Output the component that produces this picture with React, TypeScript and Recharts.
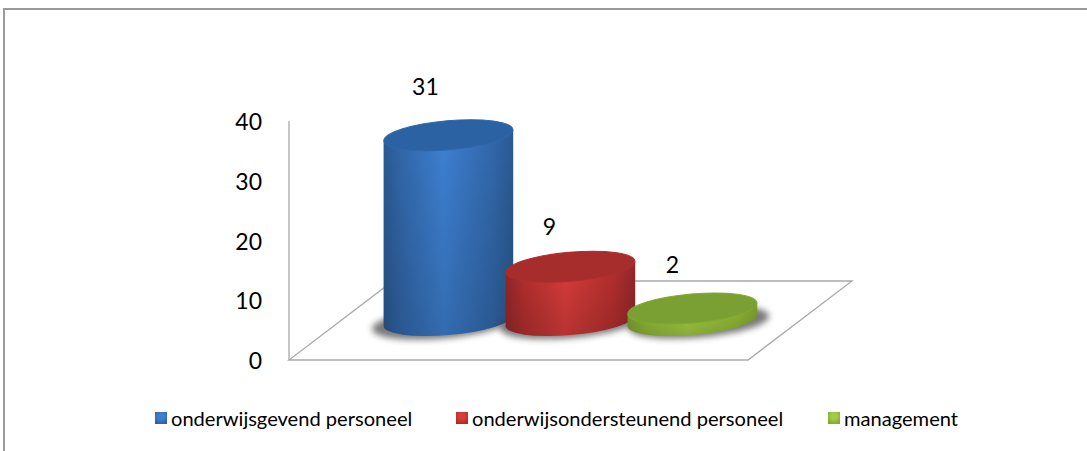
import React from 'react';
import { BarChart, Bar, XAxis, YAxis, Legend, ReferenceArea, LabelList } from 'recharts';

const categories = ['onderwijsgevend personeel', 'onderwijsondersteunend personeel', 'management'];
const values = [31, 9, 2];
const yTicks = [0, 10, 20, 30, 40];

const chartData = categories.map((name, i) => ({ name, value: values[i] }));

const FONT = 'Lato, "Open Sans", sans-serif';
const AXIS_GREY = '#a9a9a9';

// the 3D look: the floor runs back by this much, bars stand in the middle of it
const DEPTH_X = 104;
const DEPTH_Y = 79;
const X_PAD = 46.5;
const RX = 64.8;
const RY = 14.5;
const TILT = -5;
const TILT_DY = 5.4;

const palette = [
  { id: 'blue', edge: '#2a5a92', soft: '#3268ab', mid: '#3d80d2', top: '#2b62a3', topEdge: '#2d68ad', square: '#3566a8' },
  { id: 'red', edge: '#94272a', soft: '#b32f2e', mid: '#d83d3a', top: '#a62d2b', topEdge: '#ad2f2d', square: '#b52f2d' },
  { id: 'green', edge: '#7a9e30', soft: '#8fb737', mid: '#a3cc42', top: '#7a9f32', topEdge: '#82a834', square: '#8aae37' },
];

// data labels sit a bit left of the bars in the original
const labelNudge = [
  { dx: -23, dy: -49 },
  { dx: -21, dy: -41 },
  { dx: -20, dy: -45 },
];

const Floor = (props: any) => {
  const { x, y, width, height } = props;
  const bottom = y + height;
  const pts = [
    [x - X_PAD, bottom],
    [x + width + X_PAD, bottom],
    [x + width + X_PAD + DEPTH_X, bottom - DEPTH_Y],
    [x - X_PAD + DEPTH_X, bottom - DEPTH_Y],
  ];
  return <polygon points={pts.map(p => p.join(',')).join(' ')} fill="#fff" stroke={AXIS_GREY} strokeWidth={1.3} />;
};

const Cylinder = (props: any) => {
  const { x, y, width, height, index } = props;
  const c = palette[index];
  const cx = x + width / 2 + DEPTH_X / 2;
  const top = y - DEPTH_Y / 2;
  const bottom = y + height - DEPTH_Y / 2;
  const left = cx - RX;
  const right = cx + RX;
  const side = `M${left},${top + TILT_DY} L${left},${bottom + TILT_DY} A${RX},${RY} ${TILT} 0 0 ${right},${bottom - TILT_DY} L${right},${top - TILT_DY} Z`;
  return (
    <g>
      <ellipse
        cx={cx + (index - 1) * 6}
        cy={bottom + 2}
        rx={RX + 6}
        ry={RY + 1}
        transform={`rotate(${TILT} ${cx} ${bottom})`}
        fill="#333"
        opacity={0.65}
        filter="url(#floorShadow)"
      />
      <path d={side} fill={`url(#side-${c.id})`} />
      <path d={side} fill="url(#sideShade)" />
      <ellipse
        cx={cx}
        cy={top}
        rx={RX}
        ry={RY}
        transform={`rotate(${TILT} ${cx} ${top})`}
        fill={c.top}
        stroke={c.topEdge}
        strokeWidth={1}
      />
    </g>
  );
};

const ValueLabel = (props: any) => {
  const { x, y, width, index, value } = props;
  const n = labelNudge[index];
  return (
    <text
      x={x + width / 2 + DEPTH_X / 2 + n.dx}
      y={y - DEPTH_Y / 2 + n.dy}
      textAnchor="middle"
      dominantBaseline="central"
      fontFamily={FONT}
      fontSize={23}
      fill="#000"
    >
      {value}
    </text>
  );
};

const legendLefts = [155, 456, 828];

const ChartLegend = () => (
  <div style={{ position: 'relative', width: 1087, height: 26, fontFamily: FONT, fontSize: 20.1, color: '#000' }}>
    {categories.map((name, i) => (
      <div key={name} style={{ position: 'absolute', left: legendLefts[i], top: 0, height: 26, display: 'flex', alignItems: 'center', whiteSpace: 'nowrap' }}>
        <span
          style={{
            width: 12,
            height: 12,
            marginRight: 4,
            display: 'inline-block',
            background: `radial-gradient(circle at 50% 35%, ${palette[i].mid} 30%, ${palette[i].square} 70%, ${palette[i].edge})`,
          }}
        />
        {name}
      </div>
    ))}
  </div>
);

export default function App() {
  return (
    <div style={{ position: 'absolute', left: 0, top: 0, width: 1087, height: 451, overflow: 'hidden', background: '#fff' }}>
      <div style={{ position: 'absolute', left: 3, top: 8, right: -4, bottom: -4, borderLeft: '2px solid #9a9a9a', borderTop: '2px solid #9a9a9a' }} />
      <BarChart
        width={1087}
        height={451}
        data={chartData}
        margin={{ top: 121, right: 339, bottom: 91, left: 0 }}
        style={{ position: 'absolute', left: 0, top: 0 }}
      >
        <defs>
          {palette.map(c => (
            <linearGradient key={c.id} id={`side-${c.id}`} x1="0" y1="0" x2="1" y2="0">
              <stop offset="0%" stopColor={c.edge} />
              <stop offset="14%" stopColor={c.soft} />
              <stop offset="46%" stopColor={c.mid} />
              <stop offset="84%" stopColor={c.soft} />
              <stop offset="100%" stopColor={c.edge} />
            </linearGradient>
          ))}
          <linearGradient id="sideShade" x1="0" y1="0" x2="0" y2="1">
            <stop offset="0%" stopColor="#000" stopOpacity={0} />
            <stop offset="100%" stopColor="#000" stopOpacity={0.16} />
          </linearGradient>
          <filter id="floorShadow" x="-20%" y="-50%" width="140%" height="200%">
            <feGaussianBlur stdDeviation="3" />
          </filter>
        </defs>
        <ReferenceArea y1={0} y2={40} shape={Floor} ifOverflow="visible" />
        <XAxis dataKey="name" tick={false} tickLine={false} axisLine={false} height={0} padding={{ left: X_PAD, right: X_PAD }} />
        <YAxis
          width={289}
          domain={[0, 40]}
          ticks={yTicks}
          interval={0}
          tickLine={false}
          tickMargin={21}
          tick={{ fontFamily: FONT, fontSize: 23, fill: '#000', dy: 1 }}
          axisLine={{ stroke: AXIS_GREY, strokeWidth: 1.3 }}
        />
        <Bar dataKey="value" barSize={129} shape={Cylinder} isAnimationActive={false}>
          <LabelList dataKey="value" content={ValueLabel} />
        </Bar>
        <Legend
          layout="horizontal"
          verticalAlign="middle"
          content={ChartLegend}
          wrapperStyle={{ position: 'absolute', left: 0, top: 405, width: 1087, margin: 0 }}
        />
      </BarChart>
    </div>
  );
}
